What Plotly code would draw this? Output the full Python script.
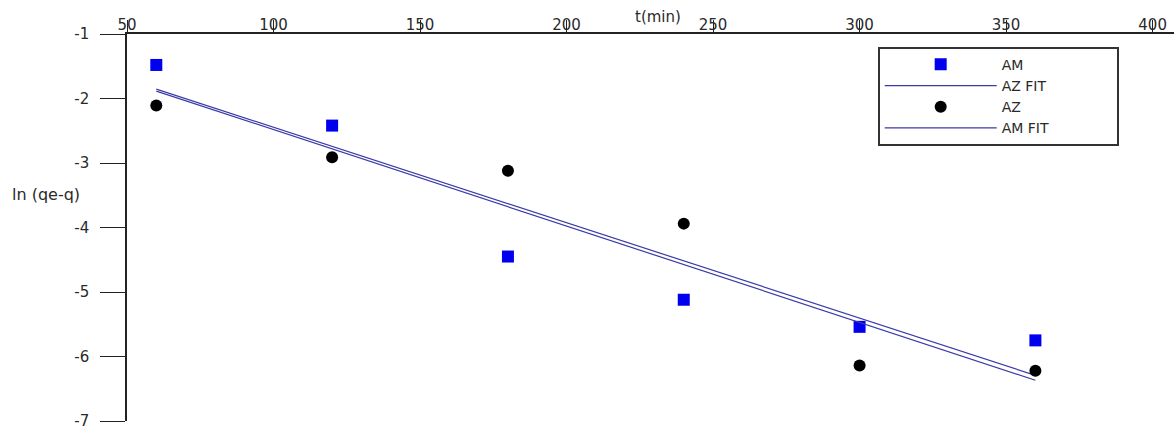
import numpy as np
import plotly.graph_objects as go

t_min = [60, 120, 180, 240, 300, 360]
am_vals = [-1.48, -2.42, -4.45, -5.12, -5.54, -5.75]
az_vals = [-2.11, -2.91, -3.12, -3.94, -6.14, -6.22]
x_ticks = [50, 100, 150, 200, 250, 300, 350, 400]
y_ticks = [-1, -2, -3, -4, -5, -6, -7]
y_tick_text = ["-1", "-2", "-3", "-4", "-5", "-6", "-7"]

t_arr = np.array(t_min, dtype=float)
am_fit = np.polyval(np.polyfit(t_arr, am_vals, 1), t_arr)
az_fit = np.polyval(np.polyfit(t_arr, az_vals, 1), t_arr)

font = "DejaVu Sans, Liberation Sans, Arial, sans-serif"
fsize = 15
tcol = "#2a2a2a"
line_col = "#3a3aa8"
pad = "\u00a0" * 14

fig = go.Figure()
fig.add_trace(go.Scatter(x=t_min, y=am_vals, mode="markers", name="AM" + pad,
                         marker=dict(symbol="square", size=12, color="#0000ee")))
fig.add_trace(go.Scatter(x=t_min, y=list(az_fit), mode="lines", name="AZ FIT" + pad,
                         line=dict(color=line_col, width=1.2)))
fig.add_trace(go.Scatter(x=t_min, y=az_vals, mode="markers", name="AZ" + pad,
                         marker=dict(symbol="circle", size=12, color="black")))
fig.add_trace(go.Scatter(x=t_min, y=list(am_fit), mode="lines", name="AM FIT" + pad,
                         line=dict(color=line_col, width=1.2)))

fig.update_layout(
    width=1174, height=430,
    margin=dict(l=127, r=0, t=34, b=2),
    paper_bgcolor="white", plot_bgcolor="white",
    font=dict(family=font, size=fsize, color=tcol),
    showlegend=True,
    legend=dict(x=0.717, y=1 - (47 - 34) / 394, xanchor="left", yanchor="top",
                bordercolor="#333", borderwidth=2, bgcolor="white",
                itemwidth=112, tracegroupgap=0,
                font=dict(family=font, size=14, color=tcol)),
    xaxis=dict(side="top", range=[50, 407.3], tickvals=x_ticks,
               showgrid=False, zeroline=False, showline=True,
               linecolor="#222", linewidth=1.5,
               ticks="outside", ticklen=12, tickcolor="#222",
               ticklabelstandoff=-16, ticklabeloverflow="allow",
               tickfont=dict(family=font, size=fsize, color=tcol)),
    yaxis=dict(range=[-7, -1], tickvals=y_ticks, ticktext=y_tick_text,
               showgrid=False, zeroline=False, showline=True,
               linecolor="#222", linewidth=1.5,
               ticks="outside", ticklen=25, tickcolor="#222",
               ticklabelstandoff=8, ticklabeloverflow="allow",
               tickfont=dict(family=font, size=fsize, color=tcol)),
    annotations=[
        dict(text="t(min)", xref="paper", yref="paper", x=(658 - 127) / 1047,
             y=1 + (34 - 17) / 394, xanchor="center", yanchor="middle",
             showarrow=False, font=dict(family=font, size=fsize, color=tcol)),
        dict(text="ln (qe-q)", xref="paper", yref="paper", x=-(127 - 10) / 1047,
             y=1 - (197 - 34) / 394, xanchor="left", yanchor="middle",
             showarrow=False, font=dict(family=font, size=16, color=tcol)),
    ],
)

fig.write_html("out.html")
